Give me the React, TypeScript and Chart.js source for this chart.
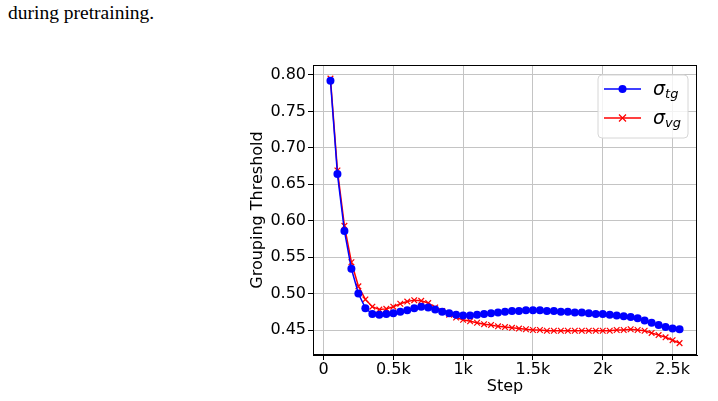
import { useEffect, useRef } from 'react';
import { Chart, registerables } from 'chart.js';

Chart.register(...registerables);

// training steps (x) and the two grouping thresholds
const steps = [
  50, 100, 150, 200, 250, 300, 350, 400, 450, 500,
  550, 600, 650, 700, 750, 800, 850, 900, 950, 1000,
  1050, 1100, 1150, 1200, 1250, 1300, 1350, 1400, 1450, 1500,
  1550, 1600, 1650, 1700, 1750, 1800, 1850, 1900, 1950, 2000,
  2050, 2100, 2150, 2200, 2250, 2300, 2350, 2400, 2450, 2500,
  2550,
];

const tgValues = [
  0.792, 0.664, 0.586, 0.534, 0.500, 0.480, 0.472, 0.471, 0.472, 0.473,
  0.475, 0.477, 0.480, 0.482, 0.481, 0.478, 0.475, 0.473, 0.471, 0.470,
  0.470, 0.471, 0.472, 0.473, 0.474, 0.475, 0.476, 0.476, 0.477, 0.477,
  0.477, 0.476, 0.476, 0.475, 0.475, 0.474, 0.474, 0.473, 0.472, 0.472,
  0.471, 0.470, 0.469, 0.468, 0.466, 0.463, 0.460, 0.457, 0.454, 0.452,
  0.451,
];

const vgValues = [
  0.795, 0.669, 0.593, 0.543, 0.510, 0.492, 0.482, 0.478, 0.479, 0.482,
  0.486, 0.489, 0.491, 0.490, 0.487, 0.481, 0.476, 0.471, 0.467, 0.464,
  0.462, 0.460, 0.458, 0.457, 0.455, 0.454, 0.453, 0.452, 0.451, 0.450,
  0.450, 0.449, 0.449, 0.449, 0.449, 0.449, 0.449, 0.449, 0.449, 0.449,
  0.449, 0.450, 0.450, 0.451, 0.450, 0.449, 0.446, 0.443, 0.440, 0.436,
  0.432,
];

const xTicks = [0, 500, 1000, 1500, 2000, 2500];
const xTickLabels = ['0', '0.5k', '1k', '1.5k', '2k', '2.5k'];
const yTicks = [0.45, 0.5, 0.55, 0.6, 0.65, 0.7, 0.75, 0.8];

const legendItems = [
  { sym: 'σ', sub: 'tg', color: 'blue', marker: 'circle' },
  { sym: 'σ', sub: 'vg', color: 'red', marker: 'x' },
];

const FONT = '"DejaVu Sans", sans-serif';

// black frame around the plot area, like matplotlib spines
const framePlugin = {
  id: 'frame',
  afterDraw(chart: Chart) {
    const { ctx, chartArea: a } = chart;
    ctx.save();
    ctx.strokeStyle = '#000';
    ctx.lineWidth = 1;
    ctx.strokeRect(a.left + 0.5, a.top + 0.5, a.right - a.left - 1, a.bottom - a.top - 1);
    ctx.restore();
  },
};

// matplotlib-style legend with subscripted sigma labels
const legendPlugin = {
  id: 'mplLegend',
  afterDraw(chart: Chart) {
    const { ctx, chartArea: a } = chart;
    const w = 90;
    const h = 63;
    const x = a.right - w - 9;
    const y = a.top + 10;
    ctx.save();
    ctx.beginPath();
    ctx.roundRect(x, y, w, h, 4);
    ctx.fillStyle = 'rgba(255,255,255,0.8)';
    ctx.fill();
    ctx.strokeStyle = '#d6d6d6';
    ctx.lineWidth = 1;
    ctx.stroke();

    legendItems.forEach((item, i) => {
      const ly = y + 14 + i * 29;
      const lx = x + 6;
      ctx.strokeStyle = item.color;
      ctx.lineWidth = 1.5;
      ctx.beginPath();
      ctx.moveTo(lx, ly);
      ctx.lineTo(lx + 37, ly);
      ctx.stroke();
      const mx = lx + 18.5;
      if (item.marker === 'circle') {
        ctx.fillStyle = item.color;
        ctx.beginPath();
        ctx.arc(mx, ly, 4, 0, Math.PI * 2);
        ctx.fill();
      } else {
        ctx.lineWidth = 1.2;
        ctx.beginPath();
        ctx.moveTo(mx - 3.5, ly - 3.5);
        ctx.lineTo(mx + 3.5, ly + 3.5);
        ctx.moveTo(mx - 3.5, ly + 3.5);
        ctx.lineTo(mx + 3.5, ly - 3.5);
        ctx.stroke();
      }
      ctx.fillStyle = '#000';
      ctx.textBaseline = 'alphabetic';
      ctx.font = `italic 19px ${FONT}`;
      const tx = x + 55;
      ctx.fillText(item.sym, tx, ly + 6);
      const sw = ctx.measureText(item.sym).width;
      ctx.font = `italic 13px ${FONT}`;
      ctx.fillText(item.sub, tx + sw, ly + 9);
    });
    ctx.restore();
  },
};

function ThresholdChart() {
  const chartRef = useRef<HTMLCanvasElement>(null);
  const chartInstance = useRef<Chart | null>(null);

  useEffect(() => {
    if (!chartRef.current) return;

    if (chartInstance.current) {
      chartInstance.current.destroy();
    }

    const ctx = chartRef.current.getContext('2d');
    if (!ctx) return;

    chartInstance.current = new Chart(ctx, {
      type: 'line',
      data: {
        datasets: [
          {
            label: 'σtg',
            data: steps.map((s, i) => ({ x: s, y: tgValues[i] })),
            borderColor: 'blue',
            backgroundColor: 'blue',
            borderWidth: 1.5,
            pointStyle: 'circle',
            pointRadius: 4,
            pointBorderWidth: 0,
            tension: 0,
          },
          {
            label: 'σvg',
            data: steps.map((s, i) => ({ x: s, y: vgValues[i] })),
            borderColor: 'red',
            backgroundColor: 'red',
            borderWidth: 1.5,
            pointStyle: 'crossRot',
            pointRadius: 4,
            pointBorderWidth: 1.2,
            tension: 0,
          },
        ],
      },
      options: {
        responsive: false,
        animation: false,
        devicePixelRatio: 1,
        layout: {
          padding: { left: 245, right: 21, top: 65, bottom: 0 },
        },
        plugins: {
          legend: { display: false },
          tooltip: { enabled: false },
        },
        scales: {
          x: {
            type: 'linear',
            min: -75,
            max: 2675,
            afterFit: (scale: any) => {
              scale.height = 46;
            },
            afterBuildTicks: (scale: any) => {
              scale.ticks = xTicks.map((v) => ({ value: v }));
            },
            grid: {
              color: '#c4c4c4',
              lineWidth: 1,
              tickColor: '#000',
              tickLength: 5,
            },
            border: { display: true, color: '#000' },
            ticks: {
              color: '#000',
              font: { family: FONT, size: 16 },
              padding: 0,
              maxRotation: 0,
              autoSkip: false,
              callback: (v: any) => {
                const i = xTicks.indexOf(Number(v));
                return i >= 0 ? xTickLabels[i] : '';
              },
            },
            title: {
              display: true,
              text: 'Step',
              color: '#000',
              font: { family: FONT, size: 16 },
              padding: { top: 0, bottom: 5 },
            },
          },
          y: {
            type: 'linear',
            min: 0.4157,
            max: 0.8137,
            afterFit: (scale: any) => {
              scale.width = 68;
            },
            afterBuildTicks: (scale: any) => {
              scale.ticks = yTicks.map((v) => ({ value: v }));
            },
            grid: {
              color: '#c4c4c4',
              lineWidth: 1,
              tickColor: '#000',
              tickLength: 5,
            },
            border: { display: true, color: '#000' },
            ticks: {
              color: '#000',
              font: { family: FONT, size: 16 },
              padding: 2,
              autoSkip: false,
              callback: (v: any) => Number(v).toFixed(2),
            },
            title: {
              display: true,
              text: 'Grouping Threshold',
              color: '#000',
              font: { family: FONT, size: 16 },
              padding: { top: 3, bottom: 0 },
            },
          },
        },
      },
      plugins: [framePlugin, legendPlugin],
    });

    return () => {
      if (chartInstance.current) {
        chartInstance.current.destroy();
        chartInstance.current = null;
      }
    };
  }, []);

  return (
    <canvas
      ref={chartRef}
      width={718}
      height={401}
      style={{ position: 'absolute', left: 0, top: 0, width: 718, height: 401 }}
    />
  );
}

export default function App() {
  return (
    <div
      style={{
        position: 'fixed',
        left: 0,
        top: 0,
        width: 718,
        height: 401,
        background: '#fff',
        overflow: 'hidden',
      }}
    >
      <div
        style={{
          position: 'absolute',
          left: 8,
          top: 1,
          fontFamily: '"Liberation Serif", serif',
          fontSize: 19.5,
          lineHeight: '24px',
          color: '#000',
        }}
      >
        during pretraining.
      </div>
      <ThresholdChart />
    </div>
  );
}
